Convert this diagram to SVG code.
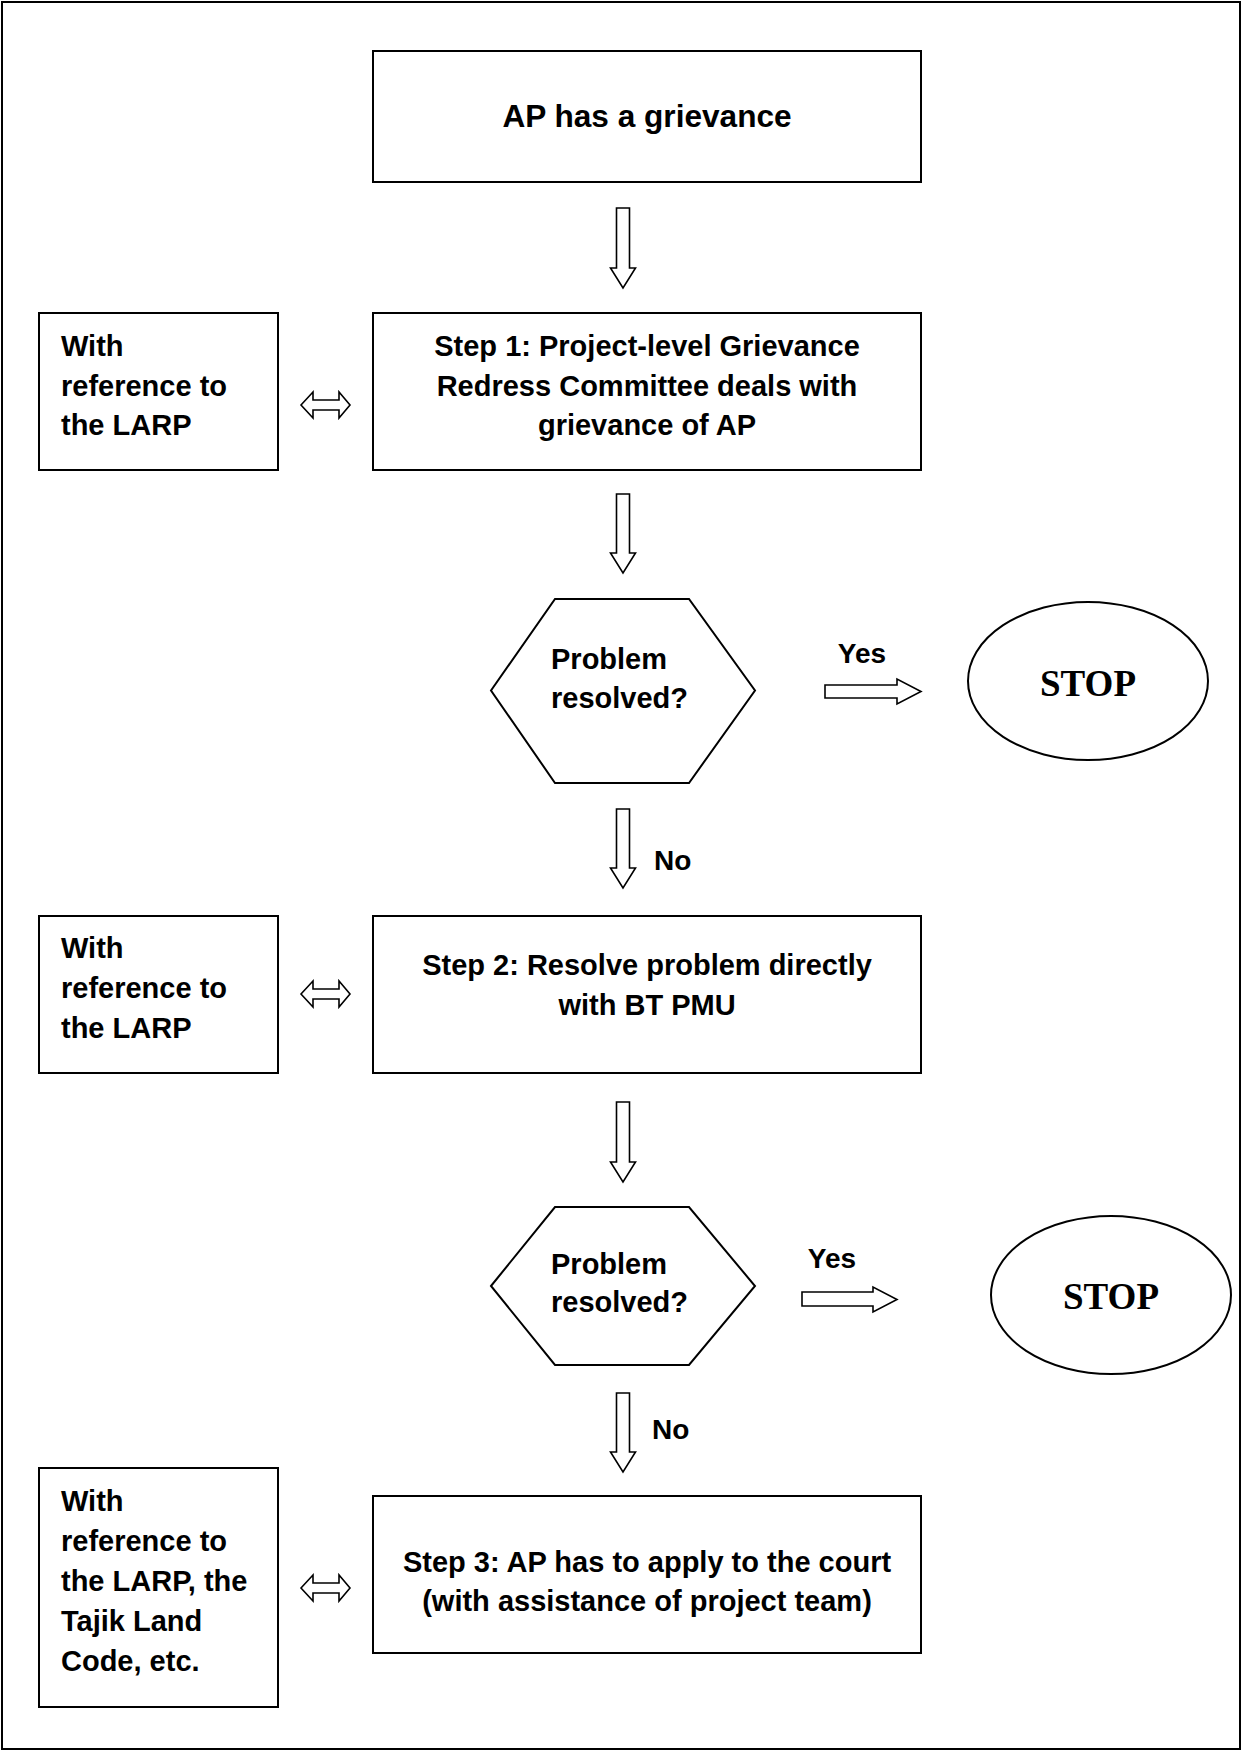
<svg xmlns="http://www.w3.org/2000/svg" width="1242" height="1751" viewBox="0 0 1242 1751">
<style>
.box{fill:#fff;stroke:#000;stroke-width:2}
.arr{fill:#fff;stroke:#000;stroke-width:1.6;stroke-linejoin:miter}
.t{font-family:"Liberation Sans",Arial,sans-serif;font-weight:bold;font-size:29px;fill:#000}
.c{text-anchor:middle}
.stop{font-family:"Liberation Serif","Times New Roman",serif;font-weight:bold;font-size:37px;text-anchor:middle;fill:#000}
</style>
<rect x="2" y="2" width="1238" height="1747" fill="#fff" stroke="#000" stroke-width="2"/>

<g id="start">
<rect class="box" x="373" y="51" width="548" height="131"/>
<text class="t c" x="647" y="127" style="font-size:31.6px">AP has a grievance</text>
</g>

<g id="step1">
<rect class="box" x="373" y="313" width="548" height="157"/>
<text class="t c" x="647" y="356">Step 1: Project-level Grievance</text>
<text class="t c" x="647" y="395.5">Redress Committee deals with</text>
<text class="t c" x="647" y="435">grievance of AP</text>
</g>

<g id="ref1">
<rect class="box" x="39" y="313" width="239" height="157"/>
<text class="t" x="61" y="356">With</text>
<text class="t" x="61" y="395.5">reference to</text>
<text class="t" x="61" y="435">the LARP</text>
</g>

<g id="decision1">
<polygon class="box" points="491,690.5 555,599 689,599 755,690.5 689,783 555,783"/>
<text class="t" x="551" y="669">Problem</text>
<text class="t" x="551" y="708">resolved?</text>
</g>

<g id="stop1">
<ellipse class="box" cx="1088" cy="681" rx="120" ry="79"/>
<text class="stop" x="1088" y="696">STOP</text>
</g>

<g id="step2">
<rect class="box" x="373" y="916" width="548" height="157"/>
<text class="t c" x="647" y="975">Step 2: Resolve problem directly</text>
<text class="t c" x="647" y="1015">with BT PMU</text>
</g>

<g id="ref2">
<rect class="box" x="39" y="916" width="239" height="157"/>
<text class="t" x="61" y="958">With</text>
<text class="t" x="61" y="998">reference to</text>
<text class="t" x="61" y="1038">the LARP</text>
</g>

<g id="decision2">
<polygon class="box" points="491,1286 555,1207 689,1207 755,1286 689,1365 555,1365"/>
<text class="t" x="551" y="1273.5">Problem</text>
<text class="t" x="551" y="1312">resolved?</text>
</g>

<g id="stop2">
<ellipse class="box" cx="1111" cy="1295" rx="120" ry="79"/>
<text class="stop" x="1111" y="1309">STOP</text>
</g>

<g id="step3">
<rect class="box" x="373" y="1496" width="548" height="157"/>
<text class="t c" x="647" y="1572">Step 3: AP has to apply to the court</text>
<text class="t c" x="647" y="1611">(with assistance of project team)</text>
</g>

<g id="ref3">
<rect class="box" x="39" y="1468" width="239" height="239"/>
<text class="t" x="61" y="1511">With</text>
<text class="t" x="61" y="1551">reference to</text>
<text class="t" x="61" y="1591">the LARP, the</text>
<text class="t" x="61" y="1631">Tajik Land</text>
<text class="t" x="61" y="1671">Code, etc.</text>
</g>

<g id="connectors">
<polygon class="arr" points="616.5,208 629.5,208 629.5,268 635.5,268 623,288 610.5,268 616.5,268"/>
<polygon class="arr" points="616.5,494 629.5,494 629.5,553 635.5,553 623,573 610.5,553 616.5,553"/>
<polygon class="arr" points="616.5,809 629.5,809 629.5,868 635.5,868 623,888 610.5,868 616.5,868"/>
<polygon class="arr" points="616.5,1102 629.5,1102 629.5,1162 635.5,1162 623,1182 610.5,1162 616.5,1162"/>
<polygon class="arr" points="616.5,1393 629.5,1393 629.5,1452 635.5,1452 623,1472 610.5,1452 616.5,1452"/>
<polygon class="arr" points="825,685 897,685 897,679 921,691.5 897,704 897,698 825,698"/>
<polygon class="arr" points="802,1292 873,1292 873,1287 897,1299.5 873,1312 873,1306 802,1306"/>
<polygon class="arr" points="301,405 313,392 313,400 339,400 339,392 350,405 339,418 339,410 313,410 313,418"/>
<polygon class="arr" points="301,994 313,981 313,989 339,989 339,981 350,994 339,1007 339,999 313,999 313,1007"/>
<polygon class="arr" points="301,1588 313,1575 313,1583 339,1583 339,1575 350,1588 339,1601 339,1593 313,1593 313,1601"/>
<text class="t c" x="862" y="663" style="font-size:28px">Yes</text>
<text class="t c" x="832" y="1268" style="font-size:28px">Yes</text>
<text class="t" x="654" y="870" style="font-size:28px">No</text>
<text class="t" x="652" y="1439" style="font-size:28px">No</text>
</g>
</svg>
